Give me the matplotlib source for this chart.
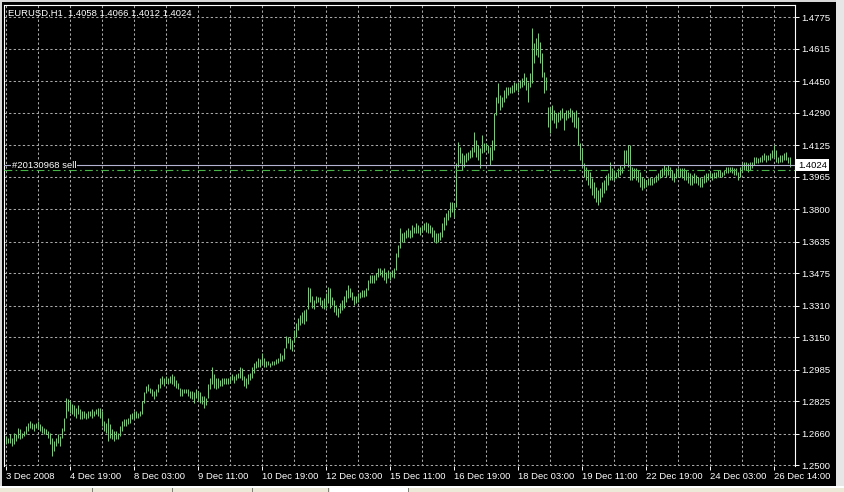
import matplotlib
matplotlib.use('Agg')
import matplotlib.pyplot as plt
from matplotlib.patches import Rectangle
import numpy as np

# ── EURUSD H1 bars (one per hour, 3 Dec 11:00 .. 26 Dec 22:00) ──
high = [
    1.2651, 1.2641, 1.2661, 1.2641, 1.2666, 1.2661, 1.2692, 1.2687, 1.2666, 1.2677,
    1.2702, 1.2717, 1.2727, 1.2717, 1.2712, 1.2717, 1.2727, 1.2712, 1.2702, 1.2692,
    1.2687, 1.2677, 1.2666, 1.2641, 1.2626, 1.2641, 1.2661, 1.2651, 1.2692, 1.2743,
    1.2844, 1.2839, 1.2829, 1.2814, 1.2804, 1.2793, 1.2804, 1.2788, 1.2778, 1.2778,
    1.2768, 1.2778, 1.2778, 1.2788, 1.2778, 1.2788, 1.2793, 1.2793, 1.2778, 1.2727,
    1.2717, 1.2743, 1.2712, 1.2687, 1.2677, 1.2677, 1.2666, 1.2702, 1.2727, 1.2738,
    1.2738, 1.2743, 1.2763, 1.2768, 1.2778, 1.2778, 1.2768, 1.2778, 1.2829, 1.2870,
    1.2905, 1.2915, 1.2895, 1.2890, 1.2880, 1.2890, 1.2915, 1.2946, 1.2956, 1.2946,
    1.2956, 1.2946, 1.2956, 1.2966, 1.2956, 1.2931, 1.2920, 1.2895, 1.2890, 1.2890,
    1.2890, 1.2890, 1.2880, 1.2880, 1.2870, 1.2890, 1.2880, 1.2870, 1.2854, 1.2854,
    1.2844, 1.2915, 1.2946, 1.2997, 1.2966, 1.2941, 1.2941, 1.2931, 1.2941, 1.2946,
    1.2941, 1.2946, 1.2956, 1.2966, 1.2956, 1.2966, 1.2971, 1.2997, 1.2992, 1.2956,
    1.2946, 1.2966, 1.2971, 1.2997, 1.3022, 1.3032, 1.3047, 1.3042, 1.3068, 1.3047,
    1.3032, 1.3032, 1.3022, 1.3032, 1.3032, 1.3042, 1.3047, 1.3068, 1.3058, 1.3098,
    1.3159, 1.3149, 1.3144, 1.3134, 1.3185, 1.3225, 1.3246, 1.3261, 1.3276, 1.3286,
    1.3296, 1.3403, 1.3398, 1.3362, 1.3337, 1.3362, 1.3352, 1.3352, 1.3337, 1.3347,
    1.3373, 1.3403, 1.3398, 1.3352, 1.3337, 1.3312, 1.3301, 1.3322, 1.3337, 1.3362,
    1.3388, 1.3413, 1.3398, 1.3378, 1.3362, 1.3362, 1.3373, 1.3378, 1.3388, 1.3388,
    1.3398, 1.3439, 1.3464, 1.3464, 1.3464, 1.3474, 1.3500, 1.3500, 1.3489, 1.3500,
    1.3479, 1.3489, 1.3479, 1.3489, 1.3500, 1.3576, 1.3616, 1.3703, 1.3677, 1.3682,
    1.3693, 1.3703, 1.3693, 1.3718, 1.3708, 1.3728, 1.3718, 1.3708, 1.3718, 1.3728,
    1.3733, 1.3728, 1.3718, 1.3708, 1.3693, 1.3677, 1.3677, 1.3682, 1.3728, 1.3759,
    1.3779, 1.3794, 1.3835, 1.3835, 1.3830, 1.4033, 1.4140, 1.4114, 1.4084, 1.4074,
    1.4084, 1.4089, 1.4099, 1.4114, 1.4190, 1.4150, 1.4124, 1.4109, 1.4175, 1.4135,
    1.4135, 1.4124, 1.4114, 1.4150, 1.4287, 1.4368, 1.4439, 1.4378, 1.4368, 1.4404,
    1.4419, 1.4419, 1.4419, 1.4429, 1.4444, 1.4439, 1.4444, 1.4455, 1.4465, 1.4490,
    1.4470, 1.4444, 1.4490, 1.4719, 1.4643, 1.4668, 1.4693, 1.4648, 1.4592, 1.4495,
    1.4470, 1.4317, 1.4317, 1.4328, 1.4302, 1.4287, 1.4292, 1.4302, 1.4312, 1.4287,
    1.4302, 1.4302, 1.4312, 1.4302, 1.4292, 1.4302, 1.4267, 1.4135, 1.4109, 1.4033,
    1.4013, 1.3997, 1.3987, 1.3957, 1.3936, 1.3911, 1.3896, 1.3906, 1.3936, 1.3947,
    1.3972, 1.3982, 1.4038, 1.4008, 1.3997, 1.3987, 1.4008, 1.4023, 1.4013, 1.4099,
    1.4099, 1.4124, 1.4124, 1.4013, 1.4008, 1.4008, 1.3997, 1.3987, 1.3962, 1.3957,
    1.3947, 1.3957, 1.3962, 1.3957, 1.3962, 1.3972, 1.3982, 1.3997, 1.4008, 1.4023,
    1.4013, 1.4023, 1.4013, 1.3997, 1.3982, 1.4008, 1.4008, 1.4008, 1.4008, 1.4008,
    1.3997, 1.3987, 1.3982, 1.3972, 1.3982, 1.3972, 1.3962, 1.3962, 1.3957, 1.3972,
    1.3982, 1.3982, 1.3987, 1.3982, 1.3987, 1.3987, 1.3997, 1.3997, 1.3987, 1.3997,
    1.4013, 1.4013, 1.4013, 1.4013, 1.4008, 1.4008, 1.3987, 1.4013, 1.4033, 1.4038,
    1.4038, 1.4033, 1.4038, 1.4038, 1.4063, 1.4063, 1.4058, 1.4063, 1.4074, 1.4084,
    1.4074, 1.4074, 1.4084, 1.4099, 1.4124, 1.4099, 1.4063, 1.4074, 1.4074, 1.4084,
    1.4089, 1.4063, 1.4066,
]
low = [
    1.2611, 1.2616, 1.2616, 1.2600, 1.2611, 1.2626, 1.2641, 1.2636, 1.2641, 1.2651,
    1.2661, 1.2677, 1.2692, 1.2687, 1.2677, 1.2692, 1.2687, 1.2677, 1.2666, 1.2661,
    1.2661, 1.2641, 1.2611, 1.2550, 1.2575, 1.2600, 1.2616, 1.2600, 1.2641, 1.2677,
    1.2743, 1.2778, 1.2768, 1.2763, 1.2753, 1.2743, 1.2763, 1.2738, 1.2738, 1.2743,
    1.2738, 1.2743, 1.2753, 1.2743, 1.2753, 1.2763, 1.2753, 1.2743, 1.2702, 1.2677,
    1.2666, 1.2626, 1.2641, 1.2636, 1.2626, 1.2636, 1.2636, 1.2651, 1.2677, 1.2702,
    1.2702, 1.2712, 1.2717, 1.2738, 1.2738, 1.2743, 1.2743, 1.2753, 1.2763, 1.2819,
    1.2865, 1.2880, 1.2865, 1.2854, 1.2839, 1.2854, 1.2870, 1.2895, 1.2915, 1.2905,
    1.2920, 1.2915, 1.2920, 1.2915, 1.2905, 1.2895, 1.2890, 1.2854, 1.2854, 1.2865,
    1.2865, 1.2854, 1.2844, 1.2839, 1.2819, 1.2844, 1.2829, 1.2819, 1.2814, 1.2793,
    1.2804, 1.2844, 1.2890, 1.2915, 1.2895, 1.2890, 1.2895, 1.2905, 1.2905, 1.2915,
    1.2915, 1.2915, 1.2920, 1.2931, 1.2920, 1.2931, 1.2941, 1.2941, 1.2931, 1.2905,
    1.2895, 1.2915, 1.2931, 1.2946, 1.2971, 1.2992, 1.2997, 1.2997, 1.3017, 1.2997,
    1.2997, 1.3007, 1.2997, 1.3007, 1.3007, 1.3017, 1.3022, 1.3032, 1.3032, 1.3042,
    1.3098, 1.3119, 1.3093, 1.3083, 1.3124, 1.3149, 1.3185, 1.3210, 1.3225, 1.3220,
    1.3235, 1.3296, 1.3327, 1.3301, 1.3296, 1.3322, 1.3327, 1.3312, 1.3301, 1.3296,
    1.3301, 1.3322, 1.3301, 1.3312, 1.3276, 1.3261, 1.3251, 1.3271, 1.3286, 1.3301,
    1.3327, 1.3347, 1.3352, 1.3337, 1.3312, 1.3322, 1.3327, 1.3347, 1.3352, 1.3352,
    1.3362, 1.3388, 1.3423, 1.3428, 1.3428, 1.3439, 1.3454, 1.3464, 1.3454, 1.3439,
    1.3428, 1.3449, 1.3439, 1.3454, 1.3449, 1.3489, 1.3555, 1.3601, 1.3632, 1.3632,
    1.3652, 1.3657, 1.3652, 1.3657, 1.3677, 1.3677, 1.3677, 1.3667, 1.3682, 1.3693,
    1.3682, 1.3677, 1.3677, 1.3657, 1.3632, 1.3627, 1.3632, 1.3642, 1.3657, 1.3693,
    1.3718, 1.3743, 1.3759, 1.3784, 1.3759, 1.3809, 1.4013, 1.4033, 1.3997, 1.4013,
    1.4038, 1.4048, 1.4058, 1.4063, 1.4089, 1.4063, 1.4048, 1.4008, 1.4084, 1.4089,
    1.4099, 1.4084, 1.4023, 1.4048, 1.4099, 1.4277, 1.4338, 1.4302, 1.4317, 1.4343,
    1.4363, 1.4378, 1.4389, 1.4389, 1.4394, 1.4404, 1.4394, 1.4414, 1.4419, 1.4429,
    1.4404, 1.4343, 1.4419, 1.4439, 1.4541, 1.4582, 1.4571, 1.4541, 1.4470, 1.4389,
    1.4404, 1.4216, 1.4185, 1.4251, 1.4236, 1.4211, 1.4241, 1.4251, 1.4262, 1.4201,
    1.4251, 1.4262, 1.4267, 1.4241, 1.4216, 1.4211, 1.4124, 1.4048, 1.4013, 1.3962,
    1.3947, 1.3921, 1.3906, 1.3870, 1.3855, 1.3835, 1.3820, 1.3835, 1.3860, 1.3881,
    1.3896, 1.3921, 1.3947, 1.3947, 1.3947, 1.3957, 1.3962, 1.3972, 1.3982, 1.4008,
    1.4033, 1.4013, 1.3947, 1.3947, 1.3957, 1.3947, 1.3936, 1.3911, 1.3896, 1.3906,
    1.3911, 1.3921, 1.3921, 1.3921, 1.3931, 1.3936, 1.3947, 1.3957, 1.3962, 1.3972,
    1.3962, 1.3972, 1.3962, 1.3947, 1.3936, 1.3957, 1.3962, 1.3962, 1.3957, 1.3947,
    1.3947, 1.3931, 1.3921, 1.3921, 1.3931, 1.3931, 1.3921, 1.3911, 1.3911, 1.3931,
    1.3936, 1.3947, 1.3957, 1.3947, 1.3957, 1.3957, 1.3962, 1.3962, 1.3962, 1.3972,
    1.3982, 1.3982, 1.3987, 1.3982, 1.3972, 1.3972, 1.3947, 1.3962, 1.3987, 1.3997,
    1.3997, 1.3987, 1.3997, 1.4008, 1.4023, 1.4033, 1.4033, 1.4038, 1.4038, 1.4048,
    1.4038, 1.4048, 1.4048, 1.4058, 1.4063, 1.4038, 1.4033, 1.4038, 1.4038, 1.4048,
    1.4048, 1.4033, 1.4012,
]

date_labels = ['3 Dec 2008', '4 Dec 19:00', '8 Dec 03:00', '9 Dec 11:00', '10 Dec 19:00',
               '12 Dec 03:00', '15 Dec 11:00', '16 Dec 19:00', '18 Dec 03:00', '19 Dec 11:00',
               '22 Dec 19:00', '24 Dec 03:00', '26 Dec 14:00']
price_labels = ['1.2500', '1.2660', '1.2825', '1.2985', '1.3150', '1.3310', '1.3475', '1.3635',
                '1.3800', '1.3965', '1.4125', '1.4290', '1.4450', '1.4615', '1.4775']
header = 'EURUSD,H1  1.4058 1.4066 1.4012 1.4024'
bid_price = 1.4024
order_price = 1.3998
order_label = '#20130968 sell'

BARS_PER_LABEL = 32
BARS_PER_GRID = 16

W, H = 844, 492
FONT = 'Liberation Sans'
plt.rcParams['font.family'] = [FONT, 'DejaVu Sans']

fig = plt.figure(figsize=(W / 100, H / 100), dpi=100, facecolor='black')
ax = fig.add_axes([4 / W, (H - 466) / H, (795 - 4) / W, (466 - 5) / H])
ax.set_facecolor('black')

n = len(high)
idx = np.arange(n)
# 1-px bars, two pixels apart, centred on pixel columns
ax.vlines(idx, low, high, color='#4ee64e', lw=0.72, zorder=2)

ax.set_xlim(-0.75, 394.75)
ax.set_ylim(1.2497, 1.4836)

# ── grid and ticks ───────────────────────────────────────────────────────────
major = np.arange(len(date_labels)) * BARS_PER_LABEL
ax.set_xticks(major)
ax.set_xticklabels(date_labels)
ax.set_xticks(np.arange(BARS_PER_GRID, 395, BARS_PER_LABEL), minor=True)
ax.set_yticks([float(p) for p in price_labels])
ax.set_yticklabels(price_labels)

grid_kw = dict(color='#a8a8a8', lw=0.75, linestyle=(0, (2.2, 2.2)))
ax.grid(True, which='major', **grid_kw)
ax.grid(True, which='minor', axis='x', **grid_kw)
ax.set_axisbelow(True)

ax.yaxis.tick_right()
ax.tick_params(axis='y', colors='white', labelcolor='white', length=3, width=0.7,
               pad=1.5, labelsize=6.8)
ax.tick_params(axis='x', colors='white', labelcolor='white', length=3, width=0.7,
               pad=1.5, labelsize=6.8)
ax.tick_params(axis='x', which='minor', length=0)
for lbl in ax.get_xticklabels():
    lbl.set_ha('left')

for side in ('left', 'top', 'right'):
    ax.spines[side].set_color('white')
    ax.spines[side].set_linewidth(0.8)
ax.spines['bottom'].set_visible(False)

# ── price lines ─────────────────────────────────────────────────────────────
ax.axhline(bid_price, color='#b4b4d2', lw=0.8, zorder=3)
ax.axhline(order_price, color='#46b446', lw=0.8, linestyle=(0, (7, 3, 1.5, 3)), zorder=3)
ax.text(3, bid_price, order_label, color='white', fontsize=6.8, va='center', ha='left',
        zorder=4, bbox=dict(facecolor='black', edgecolor='none', pad=0.5))
ax.text(1.004, bid_price, f'{bid_price:.4f}', transform=ax.get_yaxis_transform(),
        color='black', fontsize=6.8, va='center', ha='left', zorder=5, clip_on=False,
        bbox=dict(facecolor='white', edgecolor='none', pad=1.2))

fig.text(8 / W, 1 - 13.5 / H, header, color='white', fontsize=6.8, va='center', ha='left')

# ── window edges ────────────────────────────────────────────────────────────
def px_rect(x0, y0, x1, y1, color):
    fig.add_artist(Rectangle((x0 / W, 1 - y1 / H), (x1 - x0) / W, (y1 - y0) / H,
                             transform=fig.transFigure, facecolor=color,
                             edgecolor='none', zorder=10))

px_rect(0, 0, W, 2, '#d8d8d8')
px_rect(0, 0, 2, 486, '#d8d8d8')
px_rect(836, 0, W, 486, '#e6e6e6')
px_rect(0, 486, W, 487.5, '#ffffff')
px_rect(0, 487.5, W, H, '#ece9d8')
px_rect(330, 487.5, 408, H, '#ffffff')
for xs in (92, 172, 252, 328, 408):
    px_rect(xs, 487.5, xs + 1, H, '#808080')

fig.savefig('out.png', dpi=100, facecolor='black')
